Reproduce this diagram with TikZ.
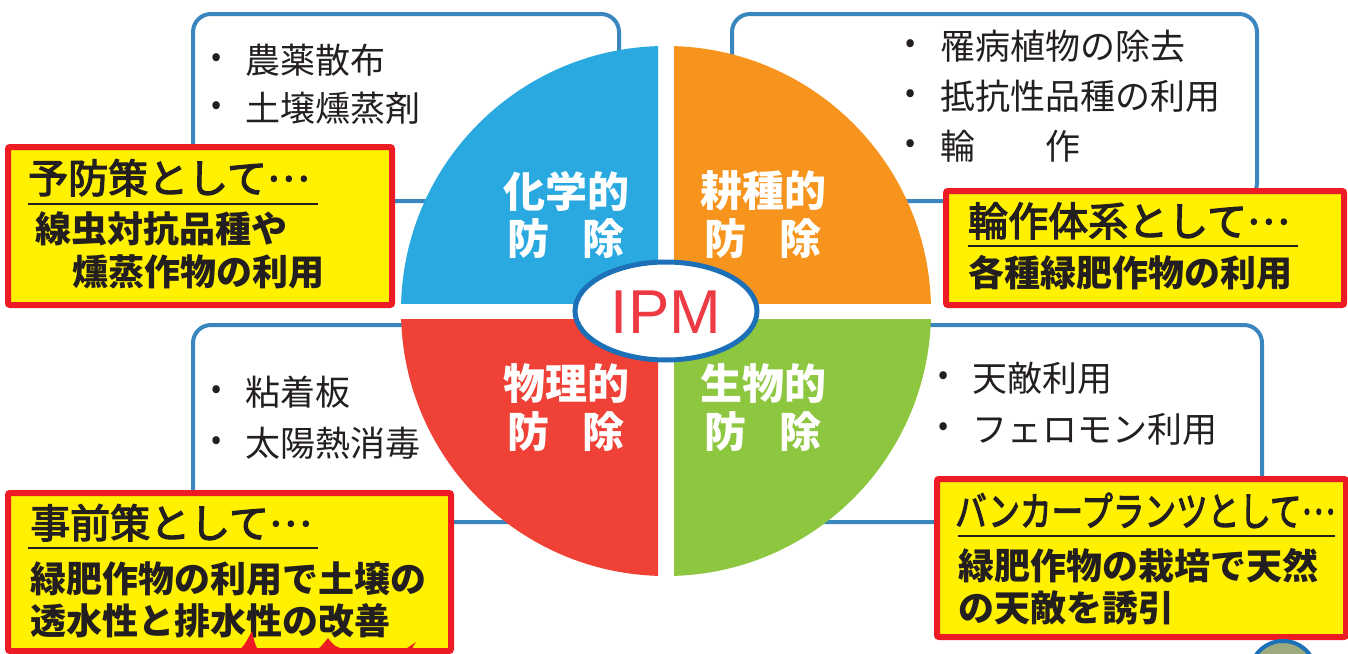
\documentclass[tikz,border=0pt]{standalone}
\usepackage{fontspec}
\usepackage{graphicx}
\setmainfont{Liberation Sans}
\newfontfamily\jp{Noto Sans CJK JP}
\newfontfamily\jpm[FakeBold=3]{Noto Sans CJK JP}
\newcommand{\midell}{\raisebox{0.3em}{…}}
\definecolor{qblue}{HTML}{29A9E0}
\definecolor{qorange}{HTML}{F7941D}
\definecolor{qred}{HTML}{EF4136}
\definecolor{qgreen}{HTML}{8DC63F}
\definecolor{boxblue}{HTML}{3A87C0}
\definecolor{ipmblue}{HTML}{1C70B8}
\definecolor{ipmred}{HTML}{EE3A43}
\definecolor{yfill}{HTML}{FFF100}
\definecolor{rborder}{HTML}{ED1C24}
\definecolor{ink}{HTML}{231F20}
\definecolor{badge}{HTML}{9DA97F}
\begin{document}
\begin{tikzpicture}[x=1pt,y=-1pt,
  listbox/.style={draw=boxblue,line width=4pt,rounded corners=18pt,fill=white},
  item/.style={anchor=west,inner sep=0pt,font=\jp\fontsize{35}{35}\selectfont,text=ink},
  bul/.style={inner sep=0pt,font=\jp\fontsize{30}{30}\selectfont,text=ink},
  qlabel/.style={inner sep=0pt,font=\jp\bfseries\fontsize{42}{42}\selectfont,text=white},
  yellowbox/.style={draw=rborder,line width=6pt,fill=yfill,rounded corners=2pt},
  ytitle/.style={anchor=base west,inner sep=0pt,font=\jpm\fontsize{40}{40}\selectfont,text=ink},
  ybody/.style={anchor=west,inner sep=0pt,font=\jp\bfseries\fontsize{36}{36}\selectfont,text=ink},
  uline/.style={draw=ink,line width=2pt}]
\useasboundingbox (0,0) rectangle (1348,653);
\fill[white] (0,0) rectangle (1348,653);

% list boxes
\draw[listbox] (193,14) rectangle (619,201);
\draw[listbox] (732,14) rectangle (1257,201);
\draw[listbox] (193,325) rectangle (640,522);
\draw[listbox] (690,325) rectangle (1262,522);

% list items
\node[bul] (b1) at (217,60) {•};  \node[item] (t1) at (245,60) {農薬散布};
\node[bul] (b2) at (217,108) {•}; \node[item] (t2) at (245,108) {土壌燻蒸剤};
\node[bul] (b3) at (911,46) {•};  \node[item] (t3) at (940,46) {罹病植物の除去};
\node[bul] (b4) at (911,96) {•};  \node[item] (t4) at (940,96) {抵抗性品種の利用};
\node[bul] (b5) at (911,146) {•}; \node[item] (t5) at (940,146) {輪　　作};
\node[bul] (b6) at (217,392) {•}; \node[item] (t6) at (245,392) {粘着板};
\node[bul] (b7) at (217,443) {•}; \node[item] (t7) at (245,443) {太陽熱消毒};
\node[bul] (b8) at (944,378) {•}; \node[item] (t8) at (972,378) {天敵利用};
\node[bul] (b9) at (944,429) {•}; \node[item] (t9) at (972,429) {フェロモン利用};

% pie quadrants
\begin{scope}\clip (380,30) rectangle (658,303); \fill[qblue] (666,311) circle[radius=265pt]; \end{scope}
\begin{scope}\clip (674,30) rectangle (950,303); \fill[qorange] (666,311) circle[radius=265pt]; \end{scope}
\begin{scope}\clip (380,319) rectangle (658,600); \fill[qred] (666,311) circle[radius=265pt]; \end{scope}
\begin{scope}\clip (674,319) rectangle (950,600); \fill[qgreen] (666,311) circle[radius=265pt]; \end{scope}

\node[qlabel] (q1a) at (566,191) {化学的};
\node[qlabel] (q1b) at (566,239) {防\hspace{0.8em}除};
\node[qlabel] (q2a) at (763,191) {耕種的};
\node[qlabel] (q2b) at (763,239) {防\hspace{0.8em}除};
\node[qlabel] (q3a) at (566,384) {物理的};
\node[qlabel] (q3b) at (566,432) {防\hspace{0.8em}除};
\node[qlabel] (q4a) at (763,384) {生物的};
\node[qlabel] (q4b) at (763,432) {防\hspace{0.8em}除};

% IPM ellipse
\draw[draw=ipmblue,line width=5pt,fill=white] (666,311) ellipse[x radius=91pt,y radius=49pt];
\node[inner sep=0pt,text=ipmred,font=\fontsize{62}{62}\selectfont] (ipm) at (666,312) {IPM};

% yellow boxes
\draw[yellowbox] (8,147) rectangle (392,305);
\node[ytitle] (a1) at (28,193) {予防策として\midell};
\draw[uline] (28,204) -- (318,204);
\node[ybody] (a2) at (35,229) {線虫対抗品種や};
\node[ybody] (a3) at (72,272) {燻蒸作物の利用};

\draw[yellowbox] (946,191) rectangle (1344,305);
\node[ytitle] (c1) at (968,236) {輪作体系として\midell};
\draw[uline] (968,246) -- (1298,246);
\node[ybody] (c2) at (968,273) {各種緑肥作物の利用};

\draw[yellowbox] (8,493) rectangle (451,651);
\node[ytitle] (d1) at (30,538) {事前策として\midell};
\draw[uline] (28,548) -- (318,548);
\node[ybody] (d2) at (30,579) {緑肥作物の利用で土壌の};
\node[ybody] (d3) at (30,621) {透水性と排水性の改善};
\fill[rborder] (236,653) .. controls (244,646) .. (252,631) .. controls (254,641) .. (259,653) -- cycle;
\fill[rborder] (311,653) .. controls (320,648) .. (328,638) .. controls (334,646) .. (346,650) -- (346,653) -- cycle;
\fill[rborder] (398,653) .. controls (406,649) .. (416,642) .. controls (412,648) .. (412,653) -- cycle;

\draw[yellowbox] (937,479) rectangle (1346,637);
\node[ytitle] (e1) at (955,526) {\scalebox{0.79}[1]{バンカープランツとして\midell}};
\draw[uline] (958,536) -- (1335,536);
\node[ybody] (e2) at (958,566) {緑肥作物の栽培で天然};
\node[ybody] (e3) at (958,608) {の天敵を誘引};

% partial badge at bottom right
\draw[draw=ipmblue,line width=4pt,fill=badge] (1283,674) circle[radius=33pt];
\end{tikzpicture}
\end{document}
